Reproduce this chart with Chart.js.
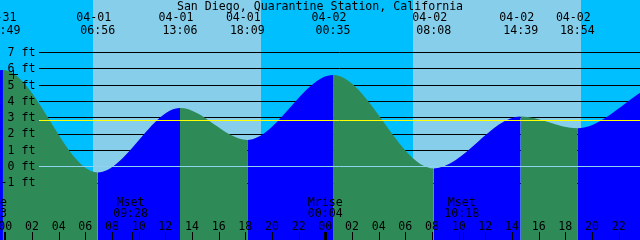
<!DOCTYPE html>
<html><head><meta charset="utf-8">
<script src="https://cdn.jsdelivr.net/npm/chart.js@4/dist/chart.umd.min.js"></script>
<style>html,body{margin:0;padding:0;background:#00BFFF}#wrap{width:640px;height:240px}</style>
</head><body><div id="wrap"><canvas id="c" width="640" height="240"></canvas></div>
<script>
const title = 'San Diego, Quarantine Station, California';
// tide extremes, hours since 04-01 00:00
const tideHours = [-6.5, -0.18, 6.93, 13.1, 18.15, 24.58, 32.13, 38.65, 42.9, 49.8, 56.9];
const tideFeet = [1.9, 5.9, -0.38, 3.57, 1.62, 5.6, -0.13, 3.05, 2.33, 5.2, 0.1];
const tideDates = ['03-31','03-31','04-01','04-01','04-01','04-02','04-02','04-02','04-02','04-03','04-03'];
const tideTimes = ['17:30','23:49','06:56','13:06','18:09','00:35','08:08','14:39','18:54','01:48','08:54'];
const sunriseHours = [6.58, 30.57];
const sunsetHours = [19.17, 43.18];
const moonHours = [-1.11, 9.47, 24.07, 34.3];
const moonNames = ['Mrise','Mset','Mrise','Mset'];
const moonTimes = ['22:53','09:28','00:04','10:18'];
const tickHours = [0,2,4,6,8,10,12,14,16,18,20,22,24,26,28,30,32,34,36,38,40,42,44,46];
const tickLabels = ['00','02','04','06','08','10','12','14','16','18','20','22','00','02','04','06','08','10','12','14','16','18','20','22'];
const dayStartHours = [0, 24];
const footLevels = [-1,0,1,2,3,4,5,6,7];
const footLabels = ['-1 ft','0 ft','1 ft','2 ft','3 ft','4 ft','5 ft','6 ft','7 ft'];
const meanLevel = 2.82;

const FONT = '11.6px "DejaVu Sans Mono", monospace';
const RISE = '#0000FF', FALL = '#2E8B57';

const tidePlugin = {
  id: 'tide',
  beforeDatasetsDraw(chart) {
    const {ctx, chartArea: a, scales: {x, y}} = chart;
    ctx.save();
    ctx.fillStyle = '#00BFFF';
    ctx.fillRect(a.left, a.top, a.right - a.left, a.bottom - a.top);
    ctx.fillStyle = '#87CEEB';
    sunriseHours.forEach((h, i) => {
      const x0 = Math.round(x.getPixelForValue(h));
      const x1 = Math.round(x.getPixelForValue(sunsetHours[i]));
      ctx.fillRect(x0, a.top, x1 - x0, a.bottom - a.top);
    });
    ctx.strokeStyle = '#000';
    ctx.lineWidth = 1;
    footLevels.forEach(v => {
      if (v === 0) return;
      const py = Math.round(y.getPixelForValue(v)) + 0.5;
      ctx.beginPath(); ctx.moveTo(39, py); ctx.lineTo(a.right, py); ctx.stroke();
    });
    ctx.restore();
  },
  afterDatasetsDraw(chart) {
    const {ctx, chartArea: a, scales: {x, y}} = chart;
    ctx.save();
    // datum line
    let py = Math.round(y.getPixelForValue(0)) + 0.5;
    ctx.strokeStyle = '#8FD3EE'; ctx.lineWidth = 1;
    ctx.beginPath(); ctx.moveTo(39, py); ctx.lineTo(a.right, py); ctx.stroke();
    // mean level
    py = Math.round(y.getPixelForValue(meanLevel)) + 0.5;
    ctx.strokeStyle = '#FFFF00';
    ctx.beginPath(); ctx.moveTo(39, py); ctx.lineTo(a.right, py); ctx.stroke();

    ctx.fillStyle = '#000';
    ctx.font = FONT;
    ctx.textBaseline = 'alphabetic';
    // y labels
    ctx.textAlign = 'right';
    footLevels.forEach((v, i) => {
      ctx.fillText(footLabels[i], 35.5, y.getPixelForValue(v) + 3.8);
    });
    // title
    ctx.textAlign = 'center';
    ctx.fillText(title, 320, 10);
    // tide labels
    tideHours.forEach((h, i) => {
      const px = x.getPixelForValue(h);
      ctx.fillText(tideDates[i], px - 4, 21);
      ctx.fillText(tideTimes[i], px, 34);
    });
    // moon labels
    moonHours.forEach((h, i) => {
      const px = x.getPixelForValue(h) - 1;
      ctx.fillText(moonNames[i], px, 206);
      ctx.fillText(moonTimes[i], px, 217);
    });
    // tick labels
    tickHours.forEach((h, i) => {
      ctx.fillText(tickLabels[i], x.getPixelForValue(h), 230);
    });
    // ticks
    ctx.strokeStyle = '#000';
    tickHours.forEach(h => {
      const thick = dayStartHours.includes(h);
      ctx.lineWidth = thick ? 2 : 1;
      const px = Math.round(x.getPixelForValue(h)) + (thick ? 0 : 0.5);
      ctx.beginPath(); ctx.moveTo(px, 232); ctx.lineTo(px, 240); ctx.stroke();
    });
    ctx.lineWidth = 1;
    moonHours.forEach(h => {
      const px = Math.round(x.getPixelForValue(h)) + 0.5;
      ctx.beginPath(); ctx.moveTo(px, 232); ctx.lineTo(px, 240); ctx.stroke();
    });
    // plus mark
    ctx.beginPath();
    ctx.moveTo(9, 74.5); ctx.lineTo(18, 74.5);
    ctx.moveTo(13.5, 70); ctx.lineTo(13.5, 79);
    ctx.stroke();
    ctx.restore();
  }
};

new Chart(document.getElementById('c'), {
  type: 'line',
  data: {
    datasets: [{
      data: tideHours.map((h, i) => ({x: h, y: tideFeet[i]})),
      borderColor: 'transparent',
      borderWidth: 0,
      pointRadius: 0,
      backgroundColor: FALL,
      fill: 'start',
      cubicInterpolationMode: 'monotone',
      segment: {
        backgroundColor: c => c.p1.parsed.y > c.p0.parsed.y ? RISE : FALL
      }
    }]
  },
  options: {
    responsive: false,
    animation: false,
    events: [],
    layout: {padding: 0},
    plugins: {legend: {display: false}, tooltip: {enabled: false}, title: {display: false}},
    scales: {
      x: {type: 'linear', display: false, min: -0.4, max: 47.6},
      y: {type: 'linear', display: false, min: -4.52, max: 10.2}
    }
  },
  plugins: [tidePlugin]
});
</script>
</body></html>
